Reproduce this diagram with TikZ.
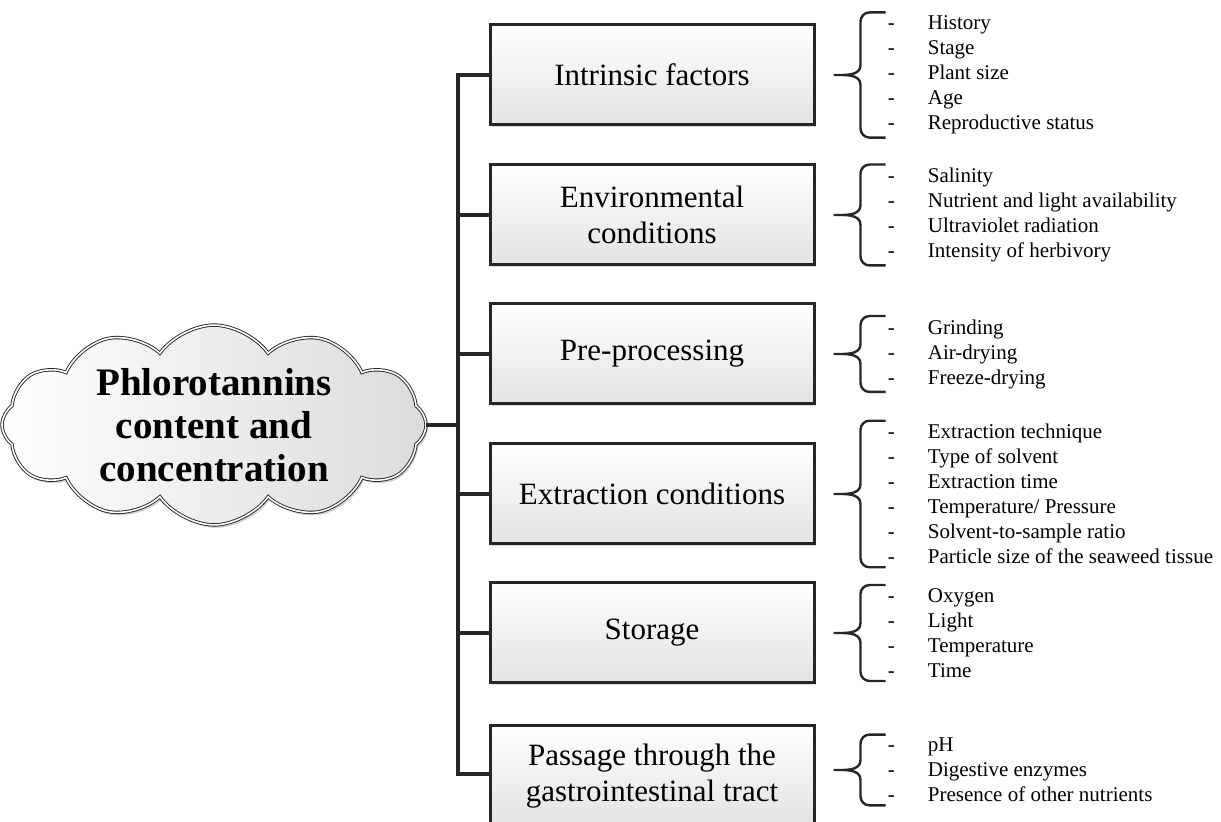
\documentclass[tikz,border=0pt]{standalone}
\usepackage{fontspec}
\setmainfont{Liberation Serif}
\usetikzlibrary{positioning,shapes.symbols,shadows}

\newcommand{\dashitem}[1]{\makebox[20pt][l]{-}#1}
% curly brace on the left side of a list node
\newcommand{\listbrace}[1]{%
    \draw[bracestyle] ([xshift=-1pt]#1.north west) -- ([xshift=-9pt]#1.north west)
        to[out=180,in=90] ([xshift=-13.5pt,yshift=-4.5pt]#1.north west)
        -- ([xshift=-13.5pt,yshift=5pt]#1.west)
        to[out=-90,in=0] ([xshift=-27pt]#1.west)
        to[out=0,in=90] ([xshift=-13.5pt,yshift=-5pt]#1.west)
        -- ([xshift=-13.5pt,yshift=4.5pt]#1.south west)
        to[out=-90,in=180] ([xshift=-9pt]#1.south west)
        -- ([xshift=-1pt]#1.south west);
}

\tikzset{
    topic/.style={cloud, cloud puffs=12, cloud puff arc=110, cloud ignores aspect,
        minimum width=212pt, minimum height=88pt, inner sep=0pt, align=center,
        draw=black!85, line width=0.45pt, double=white, double distance=0.8pt,
        left color=white, right color=gray!28,
        drop shadow={opacity=0.35, shadow xshift=1pt, shadow yshift=-1.5pt},
        font=\fontsize{19.5}{21.5}\selectfont\bfseries},
    factor/.style={draw=black!85, line width=1.5pt, top color=white, bottom color=gray!22,
        minimum width=162pt, minimum height=50pt, align=center, inner sep=2pt,
        drop shadow={opacity=0.3, shadow xshift=1.2pt, shadow yshift=-1.2pt},
        font=\fontsize{15.5}{18}\selectfont},
    subitems/.style={align=left, inner xsep=0pt, inner ysep=1.5pt,
        font=\fontsize{10.5}{12.5}\selectfont},
    link/.style={line width=2pt, black!85},
    bracestyle/.style={line width=1.2pt, black!85}
}

\begin{document}
\begin{tikzpicture}[x=0.5pt, y=-0.5pt]
    \useasboundingbox (0,0) rectangle (1221,822);

    % Central cloud
    \node[topic] (topic) at (214,425) {Phlorotannins\\content and\\concentration};
    \coordinate (trunk) at (458,425);

    % Factor boxes
    \foreach \i/\y/\txt in {1/75/{Intrinsic factors},
                            2/215/{Environmental\\conditions},
                            3/354/{Pre-processing},
                            4/494/{Extraction conditions},
                            5/633/{Storage},
                            6/776/{Passage through the\\gastrointestinal tract}}
        \node[factor] (box\i) at (652,\y) {\txt};

    % Tree connectors
    \draw[link] (topic.east) -- (trunk);
    \draw[link] (box1.west) -| (trunk) |- ([yshift=1pt]box6.west);
    \foreach \i in {2,...,5}
        \draw[link] (box\i.west -| trunk) -- (box\i.west);

    % Lists of sub-factors
    \node[subitems, right=36pt of box1.east] (sub1) {\dashitem{History}\\
        \dashitem{Stage}\\ \dashitem{Plant size}\\ \dashitem{Age}\\
        \dashitem{Reproductive status}};
    \node[subitems, right=36pt of box2.east] (sub2) {\dashitem{Salinity}\\
        \dashitem{Nutrient and light availability}\\
        \dashitem{Ultraviolet radiation}\\ \dashitem{Intensity of herbivory}};
    \node[subitems, right=36pt of box3.east] (sub3) {\dashitem{Grinding}\\
        \dashitem{Air-drying}\\ \dashitem{Freeze-drying}};
    \node[subitems, right=36pt of box4.east] (sub4) {\dashitem{Extraction technique}\\
        \dashitem{Type of solvent}\\ \dashitem{Extraction time}\\
        \dashitem{Temperature/ Pressure}\\ \dashitem{Solvent-to-sample ratio}\\
        \dashitem{Particle size of the seaweed tissue}};
    \node[subitems, right=36pt of box5.east] (sub5) {\dashitem{Oxygen}\\
        \dashitem{Light}\\ \dashitem{Temperature}\\ \dashitem{Time}};
    \node[subitems, right=36pt of box6.east, yshift=3pt] (sub6) {\dashitem{pH}\\
        \dashitem{Digestive enzymes}\\ \dashitem{Presence of other nutrients}};

    \foreach \i in {1,...,6}
        {\listbrace{sub\i}}
\end{tikzpicture}
\end{document}
